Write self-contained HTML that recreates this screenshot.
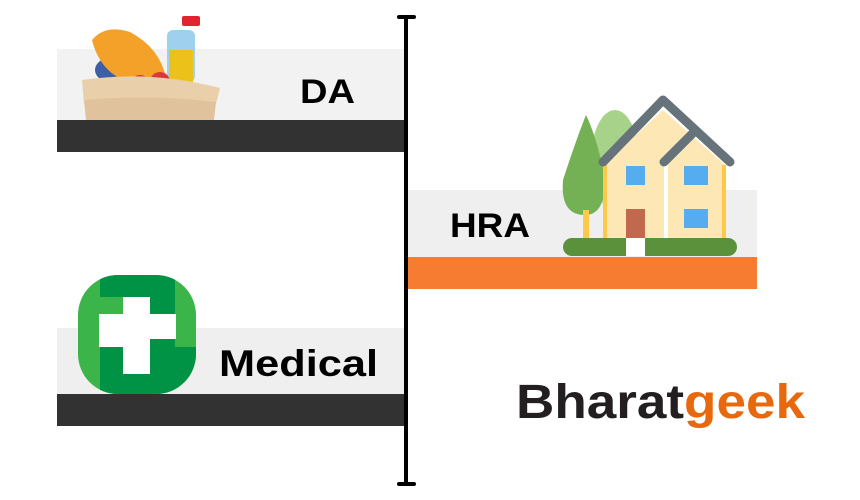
<!DOCTYPE html>
<html><head><meta charset="utf-8"><style>html,body{margin:0;padding:0;background:#fff}svg{display:block}</style></head>
<body>
<svg width="860" height="500" viewBox="0 0 860 500" xmlns="http://www.w3.org/2000/svg" font-family="Liberation Sans, sans-serif" font-weight="bold">
<defs><clipPath id="rc"><rect x="78" y="275" width="118" height="119" rx="40"/></clipPath></defs>
<!-- DA -->
<rect x="57" y="49" width="348" height="71" fill="#f2f2f2"/>
<rect x="57" y="120" width="348" height="32" fill="#323232"/>
<ellipse cx="113" cy="70" rx="18" ry="13" fill="#3d5fa8"/>
<path d="M92 40 Q105 24 130 32 Q160 48 166 78 L128 82 Q100 72 92 40Z" fill="#f4a12a"/>
<rect x="167" y="30" width="28" height="52" rx="6" fill="#9fd1ee"/>
<rect x="169" y="50" width="24" height="32" fill="#ecc11a"/>
<rect x="182" y="16" width="18" height="10" rx="2" fill="#e32330"/>
<circle cx="140" cy="84" r="9" fill="#d9393b"/><circle cx="160" cy="82" r="10" fill="#d9393b"/>
<path d="M82 80 Q150 70 220 88 L216 104 Q150 96 84 104Z" fill="#e9d0aa"/>
<path d="M84 100 Q150 94 216 102 L214 120 L86 120Z" fill="#e0c39c"/>
<text x="300" y="103" font-size="34" fill="#000" textLength="55" lengthAdjust="spacingAndGlyphs">DA</text>
<!-- HRA -->
<rect x="408" y="190" width="349" height="67" fill="#efefef"/>
<rect x="408" y="257" width="349" height="32" fill="#f57c30"/>
<text x="450" y="237" font-size="34" fill="#000" textLength="80" lengthAdjust="spacingAndGlyphs">HRA</text>
<ellipse cx="615" cy="160" rx="24" ry="50" fill="#a6d28a"/>
<path d="M586 115 Q576 140 563 180 Q560 215 585 215 Q605 215 605 180 Q598 140 586 115Z" fill="#74b154"/>
<rect x="583" y="210" width="6" height="30" fill="#fec84b"/>
<polygon points="603,165 663,110 725,165 725,240 603,240" fill="#fde7b5"/>
<rect x="603" y="165" width="4" height="75" fill="#fec84b"/><rect x="722" y="165" width="4" height="75" fill="#fec84b"/>
<rect x="664" y="165" width="4" height="75" fill="#fff"/>
<polyline points="603,162 663,100 730,162" fill="none" stroke="#66737b" stroke-width="9" stroke-linecap="round" stroke-linejoin="round"/>
<line x1="664" y1="162" x2="694" y2="132" stroke="#66737b" stroke-width="9" stroke-linecap="round"/>
<rect x="626" y="166" width="19" height="19" fill="#55acee"/><rect x="684" y="166" width="24" height="19" fill="#55acee"/>
<rect x="684" y="209" width="24" height="19" fill="#55acee"/>
<rect x="626" y="209" width="19" height="32" fill="#c1694f"/>
<rect x="563" y="238" width="174" height="18" rx="9" fill="#5c913b"/>
<rect x="626" y="238" width="19" height="18" fill="#fff"/>
<!-- Medical -->
<rect x="57" y="328" width="348" height="66" fill="#efefef"/>
<rect x="57" y="394" width="348" height="32" fill="#323232"/>
<g clip-path="url(#rc)">
<rect x="78" y="275" width="118" height="119" fill="#3bb54a"/>
<rect x="100" y="275" width="75" height="22" fill="#009245"/>
<rect x="100" y="347" width="96" height="47" fill="#009245"/>
<rect x="150" y="297" width="25" height="50" fill="#009245"/>
</g>
<path d="M123 297 L150 297 L150 314 L176 314 L176 339 L150 339 L150 374 L123 374 L123 347 L99 347 L99 314 L123 314Z" fill="#fff"/>
<text x="219" y="376" font-size="37" fill="#000" textLength="159" lengthAdjust="spacingAndGlyphs">Medical</text>
<!-- axis -->
<line x1="406" y1="16" x2="406" y2="484" stroke="#000" stroke-width="4"/>
<line x1="399" y1="17" x2="414" y2="17" stroke="#000" stroke-width="4" stroke-linecap="round"/>
<line x1="399" y1="484" x2="414" y2="484" stroke="#000" stroke-width="4" stroke-linecap="round"/>
<!-- logo -->
<text x="516" y="418" font-size="48" textLength="289" lengthAdjust="spacingAndGlyphs"><tspan fill="#231f20">Bharat</tspan><tspan fill="#e8680e">geek</tspan></text>
</svg>
</body></html>
